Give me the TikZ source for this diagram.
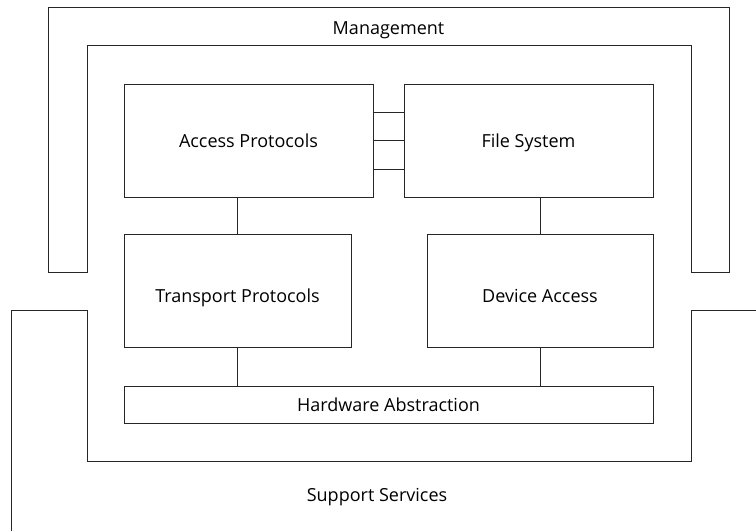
\documentclass[tikz,border=0pt]{standalone}
\usepackage{fontspec}
\setmainfont{Open Sans}
\usetikzlibrary{calc}
\tikzset{
  frame/.style={draw=black!85, line width=0.8pt},
  box/.style={frame, rectangle, inner sep=0pt, text height=15pt, text depth=2pt,
              font=\fontsize{18}{21}\selectfont},
  lowtext/.style={text height=25pt, text depth=2pt},
  label/.style={inner sep=0pt, text height=15pt, text depth=2pt,
                font=\fontsize{18}{21}\selectfont},
  link/.style={draw=black!85, line width=0.8pt}
}
\begin{document}
\begin{tikzpicture}[x=1pt, y=-1pt]
  \useasboundingbox (0,0) rectangle (756,531);

  % Management band (inverted U)
  \draw[frame] (48,272) -- (48,7.5) -- (729,7.5) -- (729,272) -- (691,272)
        -- (691,45) -- (87,45) -- (87,272) -- cycle;
  \node[label] (mgmt) at (388.5,28) {Management};

  % Support services band (U, running off the page)
  \draw[frame] (11,531) -- (11,310) -- (87,310) -- (87,461) -- (691,461)
        -- (691,310) -- (756,310);
  \node[label] (supp) at (377,495) {Support Services};

  % Components
  \node[box, minimum width=249pt, minimum height=113pt] (ap) at (248.5,140.5) {Access Protocols};
  \node[box, minimum width=249pt, minimum height=113pt] (fs) at (528.5,140.5) {File System};
  \node[box, lowtext, minimum width=227pt, minimum height=113pt] (tp) at (237.5,290.5) {Transport Protocols};
  \node[box, lowtext, minimum width=226pt, minimum height=113pt] (da) at (540,290.5) {Device Access};
  \node[box, minimum width=529pt, minimum height=37pt] (hw) at (388.5,404.5) {Hardware Abstraction};

  % Links between Access Protocols and File System
  \foreach \f in {0.25,0.5,0.75}
    \draw[link] ($(ap.north east)!\f!(ap.south east)$) -- ($(fs.north west)!\f!(fs.south west)$);

  % Vertical links
  \draw[link] (tp.north) -- (tp.north |- ap.south);
  \draw[link] (da.north) -- (da.north |- fs.south);
  \draw[link] (tp.south) -- (tp.south |- hw.north);
  \draw[link] (da.south) -- (da.south |- hw.north);
\end{tikzpicture}
\end{document}
